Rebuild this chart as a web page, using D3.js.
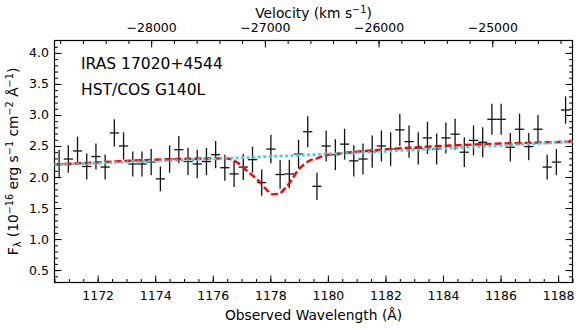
<!DOCTYPE html>
<html>
<head>
<meta charset="utf-8">
<script src="https://cdn.jsdelivr.net/npm/d3@7"></script>
<style>
  body { margin: 0; background: #fff; }
  text { font-family: "DejaVu Sans", sans-serif; fill: #000; }
</style>
</head>
<body>
<div id="chart"></div>
<script>
// observed spectrum, 0.32 A bins
const wave = [1170.66, 1170.98, 1171.30, 1171.62, 1171.94, 1172.26, 1172.58, 1172.90, 1173.22, 1173.54,
              1173.86, 1174.18, 1174.50, 1174.82, 1175.14, 1175.46, 1175.78, 1176.10, 1176.42, 1176.74,
              1177.06, 1177.38, 1177.70, 1178.02, 1178.34, 1178.66, 1178.98, 1179.30, 1179.62, 1179.94,
              1180.26, 1180.58, 1180.90, 1181.22, 1181.54, 1181.86, 1182.18, 1182.50, 1182.82, 1183.14,
              1183.46, 1183.78, 1184.10, 1184.42, 1184.74, 1185.06, 1185.38, 1185.70, 1186.02, 1186.34,
              1186.66, 1186.98, 1187.30, 1187.62, 1187.94, 1188.26];
const flux = [2.21, 2.29, 2.42, 2.17, 2.33, 2.16, 2.71, 2.50, 2.21, 2.21,
              2.24, 1.97, 2.29, 2.44, 2.25, 2.21, 2.25, 2.36, 2.15, 2.05,
              2.16, 2.28, 1.91, 2.45, 2.04, 2.05, 2.37, 2.73, 1.85, 2.50,
              2.36, 2.53, 2.26, 2.29, 2.41, 2.50, 2.45, 2.76, 2.57, 2.46,
              2.63, 2.45, 2.63, 2.69, 2.40, 2.59, 2.56, 2.93, 2.93, 2.48,
              2.77, 2.49, 2.77, 2.16, 2.24, 3.08];
const fluxErr = [0.23, 0.22, 0.23, 0.21, 0.21, 0.20, 0.22, 0.22, 0.20, 0.20,
                 0.21, 0.20, 0.22, 0.22, 0.22, 0.23, 0.22, 0.22, 0.21, 0.21,
                 0.21, 0.21, 0.21, 0.23, 0.23, 0.23, 0.23, 0.25, 0.22, 0.25,
                 0.25, 0.25, 0.25, 0.25, 0.26, 0.25, 0.27, 0.26, 0.26, 0.26,
                 0.26, 0.25, 0.25, 0.25, 0.24, 0.24, 0.24, 0.25, 0.25, 0.23,
                 0.25, 0.22, 0.23, 0.20, 0.21, 0.22];
const binHalf = 0.16;

// continuum fit
const contWave = [1170.5, 1179.5, 1188.5];
const contFlux = [2.20, 2.36, 2.57];

// continuum x absorption model
const modelWave = [1170.5, 1176.43, 1176.72, 1176.95, 1177.19, 1177.42, 1177.65, 1177.88, 1178.06, 1178.29,
                   1178.52, 1178.69, 1178.93, 1179.16, 1179.39, 1179.62, 1179.85, 1180.20, 1180.61, 1188.5];
const modelFlux = [2.20, 2.30, 2.27, 2.20, 2.10, 2.01, 1.91, 1.79, 1.72, 1.73,
                   1.82, 1.92, 2.09, 2.20, 2.27, 2.30, 2.34, 2.37, 2.39, 2.57];

const xTicks = [1172, 1174, 1176, 1178, 1180, 1182, 1184, 1186, 1188];
const yTicks = [0.5, 1.0, 1.5, 2.0, 2.5, 3.0, 3.5, 4.0];
const vTicks = [-28000, -27000, -26000, -25000];

const W = 580, H = 330;
const pL = 54.5, pR = 572.5, pT = 40.5, pB = 282.5;

const svg = d3.select("#chart").append("svg")
    .attr("width", W)
    .attr("height", H);

const x = d3.scaleLinear().domain([1170.5, 1188.5]).range([pL, pR]);
const y = d3.scaleLinear().domain([0.3, 4.2]).range([pB, pT]);
const xv = d3.scaleLinear().domain([-28850, -24295]).range([pL, pR]);

const tickFont = "12.5px";

function styleAxis(g) {
    g.select(".domain").remove();
    g.selectAll("line").attr("stroke", "#000").attr("stroke-width", 1);
    g.selectAll("text").style("font-size", tickFont).attr("fill", "#000");
}

// bottom
svg.append("g").attr("transform", `translate(0,${pB})`)
    .call(d3.axisBottom(x).tickValues(d3.range(1170.5, 1188.51, 0.5)).tickFormat("").tickSize(-3.5).tickSizeOuter(0))
    .call(styleAxis);
svg.append("g").attr("transform", `translate(0,${pB})`)
    .call(d3.axisBottom(x).tickValues(xTicks).tickFormat(d3.format("d")).tickSize(-7).tickSizeOuter(0).tickPadding(8.5))
    .call(styleAxis);

// top (velocity)
svg.append("g").attr("transform", `translate(0,${pT})`)
    .call(d3.axisTop(xv).tickValues(d3.range(-28800, -24200, 200)).tickFormat("").tickSize(-3.5).tickSizeOuter(0))
    .call(styleAxis);
svg.append("g").attr("transform", `translate(0,${pT})`)
    .call(d3.axisTop(xv).tickValues(vTicks).tickFormat(d3.format("d")).tickSize(-7).tickSizeOuter(0).tickPadding(8.5))
    .call(styleAxis);

// left
svg.append("g").attr("transform", `translate(${pL},0)`)
    .call(d3.axisLeft(y).tickValues(d3.range(0.4, 4.15, 0.1)).tickFormat("").tickSize(-3.5).tickSizeOuter(0))
    .call(styleAxis);
svg.append("g").attr("transform", `translate(${pL},0)`)
    .call(d3.axisLeft(y).tickValues(yTicks).tickFormat(d3.format(".1f")).tickSize(-7).tickSizeOuter(0).tickPadding(5.5))
    .call(styleAxis);

// right
svg.append("g").attr("transform", `translate(${pR},0)`)
    .call(d3.axisRight(y).tickValues(d3.range(0.4, 4.15, 0.1)).tickFormat("").tickSize(-3.5).tickSizeOuter(0))
    .call(styleAxis);
svg.append("g").attr("transform", `translate(${pR},0)`)
    .call(d3.axisRight(y).tickValues(yTicks).tickFormat("").tickSize(-7).tickSizeOuter(0))
    .call(styleAxis);

// frame
svg.append("rect")
    .attr("x", pL).attr("y", pT)
    .attr("width", pR - pL).attr("height", pB - pT)
    .attr("fill", "none").attr("stroke", "#000").attr("stroke-width", 1.2);

// data crosses
const pts = wave.map((w, i) => ({w: w, f: flux[i], e: fluxErr[i]}));
const plot = svg.append("g");
plot.selectAll("line.v").data(pts).enter().append("line")
    .attr("x1", d => x(d.w)).attr("x2", d => x(d.w))
    .attr("y1", d => y(d.f - d.e)).attr("y2", d => y(d.f + d.e))
    .attr("stroke", "#111").attr("stroke-width", 1.3);
plot.selectAll("line.h").data(pts).enter().append("line")
    .attr("x1", d => x(d.w - binHalf)).attr("x2", d => x(d.w + binHalf))
    .attr("y1", d => y(d.f)).attr("y2", d => y(d.f))
    .attr("stroke", "#111").attr("stroke-width", 1.3);

const line = d3.line().x(d => x(d[0])).y(d => y(d[1])).curve(d3.curveMonotoneX);
const cont = contWave.map((w, i) => [w, contFlux[i]]);
const model = modelWave.map((w, i) => [w, modelFlux[i]]);

plot.append("path").datum(cont)
    .attr("fill", "none").attr("stroke", "rgba(255,170,170,0.3)").attr("stroke-width", 4)
    .attr("d", line);
plot.append("path").datum(model)
    .attr("fill", "none").attr("stroke", "#ff0000").attr("stroke-width", 2.4)
    .attr("stroke-dasharray", "7,3")
    .attr("d", line);
plot.append("path").datum(cont)
    .attr("fill", "none").attr("stroke", "#10e0e8").attr("stroke-width", 2.5)
    .attr("stroke-dasharray", "2.5,3")
    .attr("d", line);

// labels inside
svg.append("text").attr("x", 81).attr("y", 69).style("font-size", "15.5px").text("IRAS 17020+4544");
svg.append("text").attr("x", 81).attr("y", 94.5).style("font-size", "15.5px").text("HST/COS G140L");

// axis titles
svg.append("text").attr("x", (pL + pR) / 2).attr("y", 320)
    .attr("text-anchor", "middle").style("font-size", "13.8px")
    .text("Observed Wavelength (Å)");

const vt = svg.append("text").attr("x", (pL + pR) / 2).attr("y", 18)
    .attr("text-anchor", "middle").style("font-size", "13.8px");
vt.append("tspan").text("Velocity (km s");
vt.append("tspan").attr("dy", -5).style("font-size", "9.7px").text("−1");
vt.append("tspan").attr("dy", 5).text(")");

const yl = svg.append("text")
    .attr("transform", `translate(17.5,${(pT + pB) / 2}) rotate(-90)`)
    .attr("text-anchor", "middle").style("font-size", "13.8px");
yl.append("tspan").text("F");
yl.append("tspan").attr("dy", 3).style("font-size", "9.7px").text("λ");
yl.append("tspan").attr("dy", -3).text(" (10");
yl.append("tspan").attr("dy", -5).style("font-size", "9.7px").text("−16");
yl.append("tspan").attr("dy", 5).text(" erg s");
yl.append("tspan").attr("dy", -5).style("font-size", "9.7px").text("−1");
yl.append("tspan").attr("dy", 5).text(" cm");
yl.append("tspan").attr("dy", -5).style("font-size", "9.7px").text("−2");
yl.append("tspan").attr("dy", 5).text(" Å");
yl.append("tspan").attr("dy", -5).style("font-size", "9.7px").text("−1");
yl.append("tspan").attr("dy", 5).text(")");
</script>
</body>
</html>
